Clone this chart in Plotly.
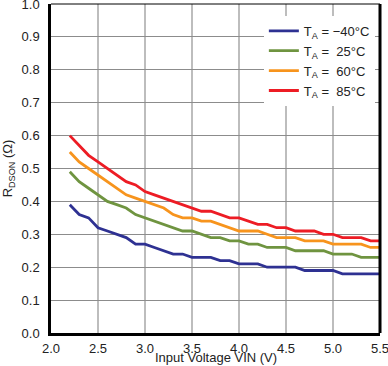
import plotly.graph_objects as go

vin = [2.2, 2.3, 2.4, 2.5, 2.6, 2.7, 2.8, 2.9, 3.0, 3.1, 3.2, 3.3, 3.4, 3.5, 3.6, 3.7, 3.8,
       3.9, 4.0, 4.1, 4.2, 4.3, 4.4, 4.5, 4.6, 4.7, 4.8, 4.9, 5.0, 5.1, 5.2, 5.3, 5.4, 5.5]

r_m40 = [0.39, 0.36, 0.35, 0.32, 0.31, 0.30, 0.29, 0.27, 0.27, 0.26, 0.25, 0.24, 0.24, 0.23, 0.23, 0.23, 0.22,
         0.22, 0.21, 0.21, 0.21, 0.20, 0.20, 0.20, 0.20, 0.19, 0.19, 0.19, 0.19, 0.18, 0.18, 0.18, 0.18, 0.18]
r_25 = [0.49, 0.46, 0.44, 0.42, 0.40, 0.39, 0.38, 0.36, 0.35, 0.34, 0.33, 0.32, 0.31, 0.31, 0.30, 0.29, 0.29,
        0.28, 0.28, 0.27, 0.27, 0.26, 0.26, 0.26, 0.25, 0.25, 0.25, 0.25, 0.24, 0.24, 0.24, 0.23, 0.23, 0.23]
r_60 = [0.55, 0.52, 0.50, 0.48, 0.46, 0.44, 0.42, 0.41, 0.40, 0.39, 0.38, 0.36, 0.35, 0.35, 0.34, 0.34, 0.33,
        0.32, 0.31, 0.31, 0.31, 0.30, 0.29, 0.29, 0.29, 0.28, 0.28, 0.28, 0.27, 0.27, 0.27, 0.27, 0.26, 0.26]
r_85 = [0.60, 0.57, 0.54, 0.52, 0.50, 0.48, 0.46, 0.45, 0.43, 0.42, 0.41, 0.40, 0.39, 0.38, 0.37, 0.37, 0.36,
        0.35, 0.35, 0.34, 0.33, 0.33, 0.32, 0.32, 0.31, 0.31, 0.31, 0.30, 0.30, 0.29, 0.29, 0.29, 0.28, 0.28]

series_names = ["T<sub>A</sub> = \u221240\u00b0C", "T<sub>A</sub> =  25\u00b0C",
                "T<sub>A</sub> =  60\u00b0C", "T<sub>A</sub> =  85\u00b0C"]
series_values = [r_m40, r_25, r_60, r_85]
colors = ["#2e3192", "#6f9440", "#f7941d", "#ed1c24"]

x_ticks = [2.0, 2.5, 3.0, 3.5, 4.0, 4.5, 5.0, 5.5]
y_ticks = [0.0, 0.1, 0.2, 0.3, 0.4, 0.5, 0.6, 0.7, 0.8, 0.9, 1.0]

fig = go.Figure()
for name, vals, col in zip(series_names, series_values, colors):
    fig.add_trace(go.Scatter(x=vin, y=vals, mode="lines", name=name,
                             line=dict(color=col, width=2.8)))

font = dict(family="Liberation Sans, Arial, sans-serif", size=13, color="#222222")

fig.update_layout(
    width=388, height=366,
    margin=dict(l=51, r=8, t=4, b=33, autoexpand=False),
    plot_bgcolor="white", paper_bgcolor="white",
    font=font,
    showlegend=True,
    legend=dict(x=0.647, y=0.964, xanchor="left", yanchor="top",
                bgcolor="white", borderwidth=0, font=dict(size=13),
                itemwidth=30, tracegroupgap=0),
    xaxis=dict(range=[2.0, 5.5], tickvals=x_ticks, tickformat=".1f",
               showgrid=True, gridcolor="#bdbdbd", gridwidth=2,
               showline=True, linecolor="black", linewidth=2.5,
               ticks="", ticklen=0, zeroline=False, ticklabeloverflow="allow",
               ticklabelstandoff=2, automargin=False),
    yaxis=dict(range=[0.0, 1.0], tickvals=y_ticks, tickformat=".1f",
               showgrid=True, gridcolor="#8c8c8c", gridwidth=1,
               showline=True, linecolor="black", linewidth=2.5,
               ticks="", ticklen=0, zeroline=False, ticklabeloverflow="allow",
               ticklabelstandoff=6, automargin=False,
               title=dict(text="R<sub>DSON</sub> (\u03a9)", standoff=10, font=dict(size=13))),
)

# x-axis title placed just under the tick labels
fig.add_annotation(text="Input Voltage VIN (V)", xref="paper", yref="paper",
                   x=0.5, y=-0.0486, xanchor="center", yanchor="top",
                   showarrow=False, font=dict(size=13), borderpad=0)

# top thin border and right thick border
fig.add_shape(type="line", xref="paper", yref="paper", x0=0, x1=1, y0=1, y1=1,
              line=dict(color="black", width=1))
fig.add_shape(type="line", xref="paper", yref="paper", x0=1, x1=1, y0=0, y1=1,
              line=dict(color="black", width=3))

fig.write_html("out.html", config={"displayModeBar": False},
               post_script="document.body.style.margin='0';document.body.style.overflow='hidden';")
